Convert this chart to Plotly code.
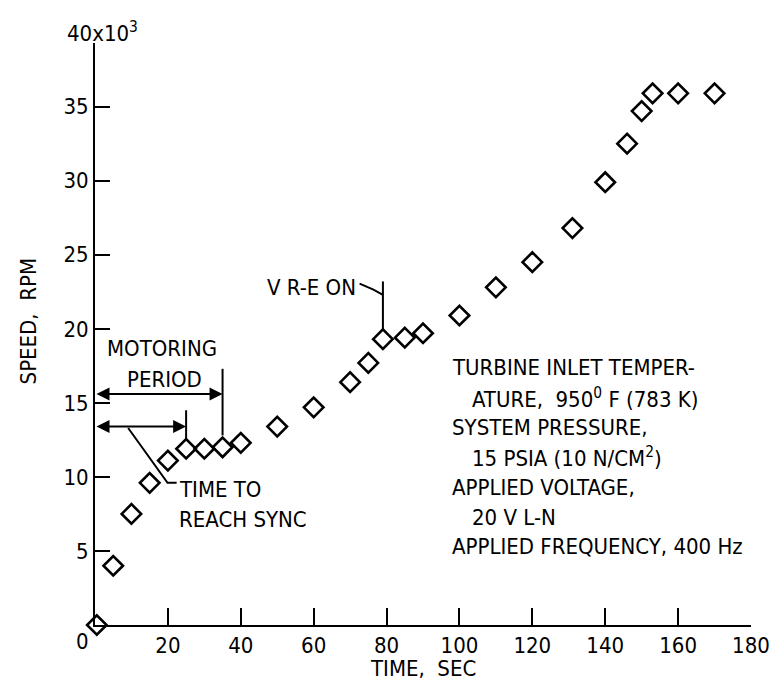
import plotly.graph_objects as go

# Data (time in s, speed in thousands of rpm)
time_s = [0.5, 5, 10, 15, 20, 25, 30, 35, 40, 50, 60, 70, 75, 79, 85, 90,
          100, 110, 120, 131, 140, 146, 150, 153, 160, 170]
speed_k = [0.0, 4.0, 7.5, 9.6, 11.1, 11.9, 11.9, 12.0, 12.3, 13.4, 14.7, 16.4,
           17.7, 19.3, 19.4, 19.7, 20.9, 22.8, 24.5, 26.8, 29.9, 32.5, 34.7,
           35.9, 35.9, 35.9]

x_ticks = [20, 40, 60, 80, 100, 120, 140, 160, 180]
y_ticks = [5, 10, 15, 20, 25, 30, 35]

info_lines = [
    ("TURBINE INLET TEMPER-", 0),
    ("ATURE,  950<sup>0</sup> F (783 K)", 1),
    ("SYSTEM PRESSURE,", 0),
    ("15 PSIA (10 N/CM<sup>2</sup>)", 1),
    ("APPLIED VOLTAGE,", 0),
    ("20 V L-N", 1),
    ("APPLIED FREQUENCY, 400 Hz", 0),
]

FONT = "Liberation Sans Narrow, DejaVu Sans Condensed, Arial Narrow, sans-serif"
FS = 22

fig = go.Figure()
fig.add_trace(go.Scatter(
    x=time_s, y=speed_k, mode="markers",
    marker=dict(symbol="diamond-open", size=15, color="black",
                line=dict(width=2.6, color="black")),
    showlegend=False, cliponaxis=False,
))

annotations = []
# 40x10^3 label (above the top of the axis)
annotations.append(dict(x=0, y=1, xref="x", yref="paper", text="40x10<sup>3</sup>",
                        showarrow=False, xanchor="center", yanchor="middle",
                        xshift=7, yshift=11, font=dict(size=FS)))
# x "0" label
annotations.append(dict(x=0, y=0, xref="x", yref="y", text="0", showarrow=False,
                        xanchor="center", yanchor="middle", xshift=-13, yshift=-16,
                        font=dict(size=FS)))
# axis titles
annotations.append(dict(x=90, y=0, xref="x", yref="y", text="TIME,  SEC",
                        showarrow=False, xanchor="center", yanchor="middle",
                        yshift=-43, font=dict(size=FS)))
annotations.append(dict(x=0, y=20.5, xref="paper", yref="y", text="SPEED,  RPM",
                        showarrow=False, textangle=-90, xanchor="center",
                        yanchor="middle", xshift=-67, font=dict(size=FS)))
# motoring period
annotations.append(dict(x=18.5, y=18.65, xref="x", yref="y", text="MOTORING",
                        showarrow=False, font=dict(size=FS)))
annotations.append(dict(x=19.0, y=16.55, xref="x", yref="y", text="PERIOD",
                        showarrow=False, font=dict(size=FS)))
# double arrows
for yv, xe in [(15.6, 35), (13.4, 25)]:
    annotations.append(dict(x=xe, y=yv, ax=0, ay=yv, xref="x", yref="y",
                            axref="x", ayref="y", text="", showarrow=True,
                            arrowhead=2, arrowsize=1.3, arrowwidth=2,
                            arrowside="end+start", arrowcolor="black",
                            standoff=0, startstandoff=0))
# time to reach sync
annotations.append(dict(x=22.6, y=9.12, xref="x", yref="y", text="TIME TO",
                        showarrow=False, xanchor="left", font=dict(size=FS)))
annotations.append(dict(x=22.4, y=7.1, xref="x", yref="y", text="REACH SYNC",
                        showarrow=False, xanchor="left", font=dict(size=FS)))
# V R-E ON
annotations.append(dict(x=72.3, y=22.77, xref="x", yref="y", text="V R-E ON",
                        showarrow=False, xanchor="right", font=dict(size=FS)))
# info block
y0 = 17.36
for i, (txt, ind) in enumerate(info_lines):
    annotations.append(dict(x=97.4 + ind * 5.6, y=y0 - i * 2.015, xref="x", yref="y",
                            text=txt, showarrow=False, xanchor="left",
                            font=dict(size=FS)))

shapes = [
    # vertical markers at end of motoring and sync
    dict(type="line", xref="x", yref="y", x0=35, x1=35, y0=17.3, y1=12.8,
         line=dict(color="black", width=2)),
    dict(type="line", xref="x", yref="y", x0=25, x1=25, y0=14.5, y1=12.5,
         line=dict(color="black", width=2)),
    # leader for time to reach sync
    dict(type="path", xref="x", yref="y",
         path="M 9.1 13.3 L 19.9 9.6 L 22.4 9.6",
         line=dict(color="black", width=2)),
    # leader for V R-E ON
    dict(type="path", xref="x", yref="y",
         path="M 72.6 23.05 L 76.4 22.65 L 79 22.3",
         line=dict(color="black", width=2)),
    dict(type="line", xref="x", yref="y", x0=79, x1=79, y0=23.2, y1=19.95,
         line=dict(color="black", width=2)),
]

fig.update_layout(
    width=782, height=689,
    margin=dict(l=95, r=21, t=43, b=64),
    paper_bgcolor="white", plot_bgcolor="white",
    font=dict(family=FONT, size=FS, color="black"),
    annotations=annotations, shapes=shapes,
    showlegend=False,
)
fig.update_xaxes(range=[0, 180], tickvals=x_ticks, ticktext=[str(v) for v in x_ticks],
                 ticks="inside", ticklen=17, tickwidth=2, tickcolor="black",
                 showline=True, linecolor="black", linewidth=2, showgrid=False,
                 zeroline=False, tickfont=dict(size=FS))
fig.update_yaxes(range=[0, 39.3], tickvals=y_ticks, ticktext=[str(v) for v in y_ticks],
                 ticks="inside", ticklen=15, tickwidth=2, tickcolor="black",
                 showline=True, linecolor="black", linewidth=2, showgrid=False,
                 zeroline=False, tickfont=dict(size=FS))

fig.write_html("out.html")
